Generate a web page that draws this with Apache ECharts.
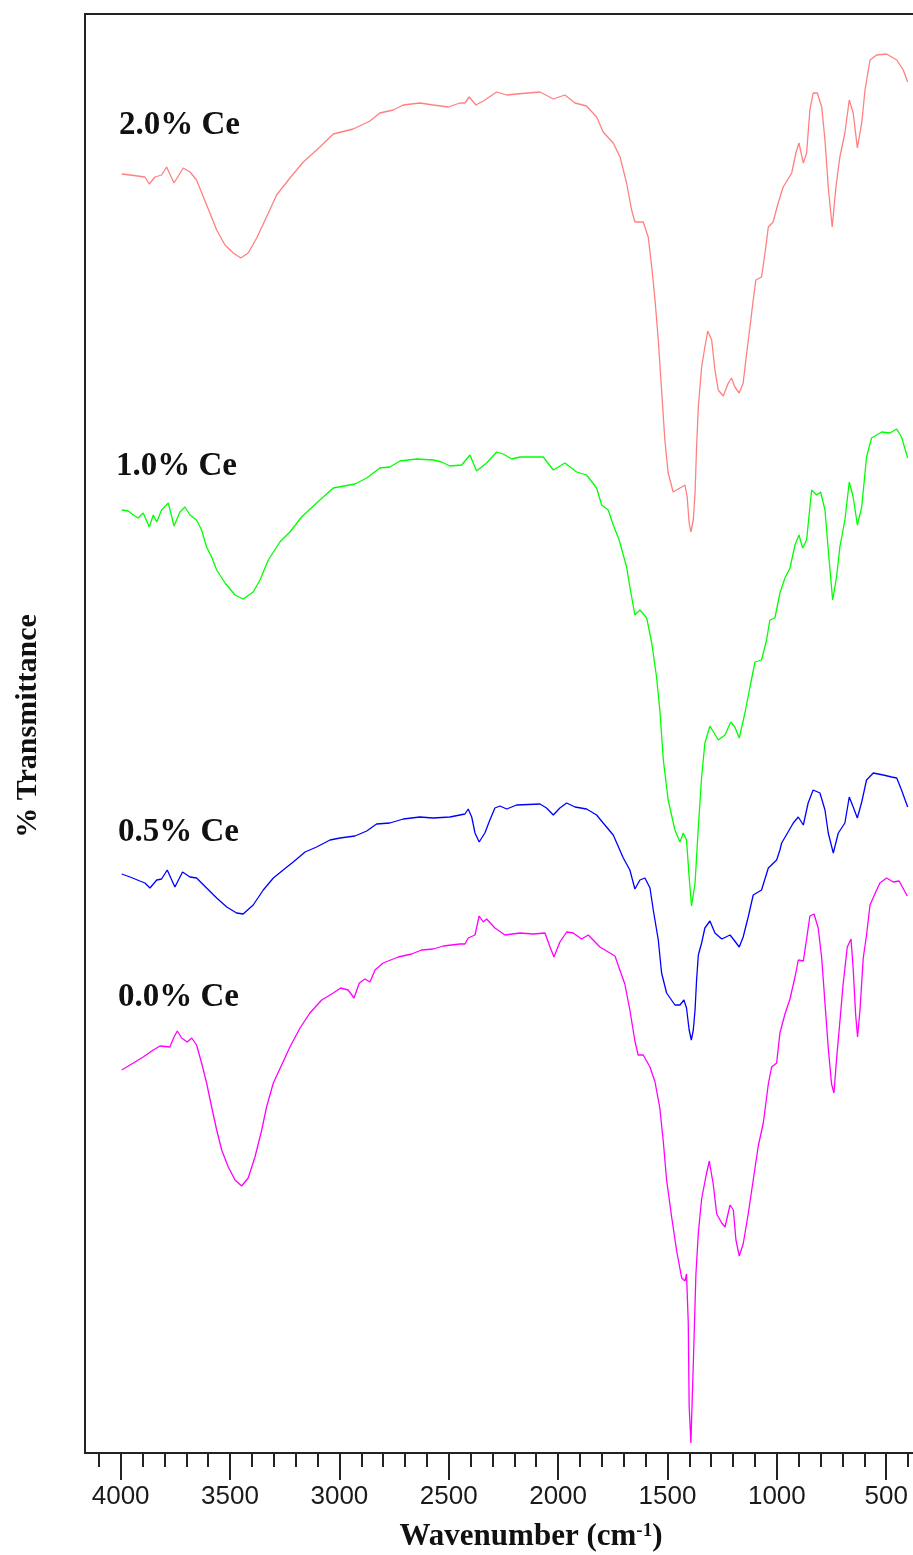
<!DOCTYPE html>
<html>
<head>
    <meta charset="utf-8">
    <title>FTIR spectra</title>
    <script src="https://cdn.jsdelivr.net/npm/echarts@6/dist/echarts.min.js"></script>
    <style>
        html, body { margin: 0; padding: 0; background: #fff; }
        #main { width: 913px; height: 1555px; }
    </style>
</head>
<body>
    <div id="main"></div>
    <script type="text/javascript">
        // spectra as [wavenumber (cm-1), stacked transmittance (a.u.)]
        var ce20 = [
            [3995, 127.9], [3957, 127.8], [3889, 127.6], [3869, 126.9], [3843, 127.6], [3813, 127.8],
            [3790, 128.6], [3756, 127.0], [3714, 128.5], [3683, 128.1], [3653, 127.3], [3622, 125.6],
            [3592, 124.0], [3561, 122.3], [3523, 120.8], [3485, 120.0], [3451, 119.5], [3417, 120.0],
            [3378, 121.5], [3333, 123.6], [3287, 125.8], [3226, 127.5], [3165, 129.1], [3089, 130.6],
            [3028, 131.9], [2937, 132.4], [2860, 133.2], [2815, 134.0], [2754, 134.3], [2708, 134.8],
            [2632, 135.0], [2571, 134.8], [2502, 134.6], [2449, 135.0], [2426, 135.0], [2406, 135.6],
            [2376, 134.8], [2342, 135.2], [2281, 136.1], [2235, 135.8], [2190, 135.9], [2083, 136.1],
            [2022, 135.4], [1969, 135.8], [1923, 135.0], [1870, 134.7], [1824, 133.6], [1794, 132.1],
            [1748, 131.0], [1717, 129.6], [1687, 127.0], [1664, 124.3], [1649, 123.1], [1611, 123.1],
            [1588, 121.6], [1572, 118.6], [1557, 115.3], [1542, 111.3], [1527, 106.3], [1512, 101.3],
            [1497, 98.0], [1474, 96.1], [1443, 96.5], [1420, 96.8], [1410, 95.6], [1401, 93.0],
            [1393, 92.1], [1382, 93.3], [1374, 96.0], [1367, 100.6], [1359, 104.6], [1344, 108.6],
            [1329, 110.6], [1316, 112.2], [1298, 111.3], [1283, 108.3], [1268, 106.3], [1245, 105.7],
            [1222, 107.0], [1207, 107.5], [1192, 106.6], [1172, 106.0], [1154, 107.0], [1138, 110.0],
            [1123, 112.6], [1108, 115.3], [1096, 117.3], [1070, 117.6], [1054, 120.0], [1039, 122.6],
            [1017, 123.1], [994, 125.0], [971, 126.6], [932, 128.0], [913, 130.0], [899, 131.0],
            [879, 129.0], [864, 130.0], [849, 134.3], [834, 136.0], [815, 136.0], [795, 134.6],
            [780, 131.3], [765, 126.6], [747, 122.6], [730, 126.6], [712, 129.6], [689, 132.0],
            [669, 135.3], [651, 134.0], [632, 130.5], [612, 133.0], [597, 136.3], [574, 139.3],
            [544, 139.8], [498, 139.9], [452, 139.3], [422, 138.3], [402, 137.1]
        ];
        var ce10 = [
            [3995, 94.3], [3965, 94.2], [3942, 93.8], [3920, 93.5], [3897, 94.0], [3869, 92.6],
            [3851, 93.8], [3835, 93.1], [3813, 94.3], [3782, 95.0], [3756, 92.7], [3729, 94.1],
            [3706, 94.6], [3683, 93.8], [3653, 93.3], [3630, 92.3], [3607, 90.6], [3584, 89.6],
            [3561, 88.3], [3523, 87.0], [3477, 85.8], [3440, 85.4], [3394, 86.1], [3363, 87.3],
            [3325, 89.3], [3272, 91.1], [3226, 92.1], [3173, 93.6], [3089, 95.3], [3028, 96.5],
            [2929, 96.9], [2875, 97.5], [2815, 98.5], [2769, 98.6], [2723, 99.2], [2647, 99.4],
            [2571, 99.3], [2533, 99.1], [2495, 98.7], [2441, 98.8], [2403, 99.8], [2373, 98.2],
            [2327, 99.0], [2281, 100.1], [2251, 99.9], [2212, 99.4], [2174, 99.6], [2068, 99.6],
            [2022, 98.3], [1969, 99.0], [1915, 98.1], [1870, 97.8], [1824, 96.5], [1801, 94.8],
            [1771, 94.3], [1748, 92.8], [1721, 91.3], [1687, 88.6], [1672, 86.6], [1649, 83.8],
            [1626, 84.3], [1595, 83.5], [1572, 81.0], [1550, 77.6], [1535, 74.3], [1519, 69.3],
            [1497, 65.3], [1466, 62.3], [1443, 61.1], [1428, 62.0], [1413, 61.3], [1401, 57.6],
            [1390, 54.7], [1374, 57.0], [1359, 62.6], [1344, 67.6], [1329, 71.0], [1306, 72.7],
            [1268, 71.3], [1237, 71.8], [1211, 73.1], [1192, 72.6], [1172, 71.5], [1146, 74.0],
            [1123, 76.6], [1100, 79.1], [1070, 79.3], [1047, 81.3], [1032, 83.3], [1009, 83.5],
            [986, 86.0], [963, 87.5], [940, 88.5], [917, 90.8], [899, 91.8], [882, 90.5],
            [864, 91.3], [841, 96.3], [818, 95.8], [800, 96.1], [780, 94.3], [765, 90.3],
            [745, 85.3], [727, 87.6], [712, 90.6], [689, 93.3], [669, 97.1], [651, 95.6],
            [632, 92.8], [612, 94.6], [590, 99.6], [567, 101.5], [521, 102.1], [483, 102.0],
            [452, 102.4], [430, 101.6], [402, 99.5]
        ];
        var ce05 = [
            [3995, 57.9], [3957, 57.6], [3912, 57.2], [3889, 57.0], [3866, 56.5], [3835, 57.3],
            [3813, 57.4], [3787, 58.3], [3752, 56.6], [3717, 58.1], [3683, 57.6], [3653, 57.5],
            [3607, 56.5], [3561, 55.5], [3515, 54.6], [3470, 54.0], [3440, 53.9], [3394, 54.8],
            [3348, 56.3], [3302, 57.5], [3257, 58.3], [3211, 59.1], [3157, 60.1], [3104, 60.6],
            [3043, 61.3], [2997, 61.5], [2929, 61.7], [2875, 62.2], [2830, 62.9], [2769, 63.0],
            [2708, 63.4], [2632, 63.6], [2571, 63.5], [2495, 63.6], [2426, 63.9], [2411, 64.4],
            [2395, 63.6], [2380, 62.0], [2361, 61.1], [2335, 62.0], [2312, 63.3], [2289, 64.5],
            [2266, 64.7], [2235, 64.4], [2190, 64.8], [2083, 64.9], [2053, 64.5], [2022, 63.8],
            [1992, 64.5], [1961, 65.0], [1923, 64.6], [1870, 64.4], [1824, 63.8], [1794, 63.0],
            [1748, 61.8], [1702, 59.5], [1672, 58.3], [1649, 56.4], [1626, 57.3], [1603, 57.5],
            [1580, 56.5], [1565, 54.3], [1542, 51.3], [1527, 48.0], [1504, 46.0], [1466, 44.8],
            [1443, 44.8], [1425, 45.3], [1413, 44.5], [1401, 42.3], [1391, 41.3], [1382, 42.3],
            [1374, 44.3], [1367, 47.3], [1359, 49.8], [1344, 51.0], [1329, 52.5], [1306, 53.2],
            [1283, 52.0], [1252, 51.4], [1214, 51.8], [1196, 51.3], [1172, 50.6], [1154, 51.6],
            [1131, 53.6], [1108, 55.8], [1070, 56.3], [1039, 58.5], [1001, 59.3], [986, 60.3],
            [978, 61.0], [925, 63.0], [902, 63.6], [879, 62.8], [857, 65.0], [834, 66.3],
            [803, 66.0], [780, 64.3], [765, 62.0], [742, 60.0], [719, 62.0], [689, 63.0],
            [669, 65.6], [651, 64.6], [632, 63.5], [612, 65.1], [590, 67.3], [559, 68.0],
            [514, 67.8], [475, 67.6], [452, 67.5], [430, 66.3], [402, 64.6]
        ];
        var ce00 = [
            [3995, 38.3], [3942, 39.0], [3897, 39.6], [3851, 40.3], [3820, 40.7], [3775, 40.6],
            [3756, 41.6], [3741, 42.2], [3721, 41.5], [3696, 41.1], [3675, 41.5], [3653, 40.8],
            [3630, 39.0], [3607, 37.0], [3584, 34.6], [3561, 32.3], [3538, 30.3], [3508, 28.6],
            [3477, 27.3], [3447, 26.7], [3417, 27.5], [3386, 29.6], [3355, 32.3], [3333, 34.6],
            [3302, 37.0], [3264, 38.8], [3226, 40.6], [3180, 42.5], [3135, 44.0], [3081, 45.3],
            [3028, 46.0], [2994, 46.5], [2960, 46.3], [2933, 45.5], [2909, 47.0], [2883, 47.4],
            [2860, 47.1], [2837, 48.3], [2800, 49.0], [2731, 49.6], [2670, 49.9], [2624, 50.3],
            [2571, 50.4], [2525, 50.7], [2449, 50.9], [2426, 50.9], [2411, 51.5], [2380, 51.8],
            [2361, 53.7], [2342, 53.1], [2327, 53.4], [2289, 52.5], [2243, 51.8], [2174, 52.0],
            [2114, 51.9], [2060, 52.0], [2037, 50.6], [2019, 49.6], [1992, 51.1], [1961, 52.1],
            [1931, 52.0], [1893, 51.4], [1862, 51.8], [1809, 50.6], [1763, 50.0], [1740, 49.7],
            [1721, 48.5], [1695, 46.9], [1672, 44.3], [1649, 41.2], [1634, 39.8], [1611, 39.8],
            [1580, 38.6], [1557, 37.1], [1535, 34.5], [1519, 31.1], [1504, 27.3], [1481, 23.6],
            [1458, 20.2], [1435, 17.5], [1420, 17.2], [1413, 17.9], [1405, 13.0], [1401, 4.7],
            [1393, 1.0], [1382, 8.9], [1370, 17.9], [1359, 22.0], [1344, 25.4], [1324, 27.7],
            [1309, 29.2], [1291, 26.9], [1275, 23.9], [1252, 23.0], [1237, 22.6], [1214, 24.8],
            [1199, 24.3], [1187, 21.3], [1172, 19.7], [1154, 20.9], [1131, 23.9], [1108, 27.3],
            [1085, 30.7], [1062, 33.0], [1039, 36.9], [1024, 38.6], [1001, 39.0], [986, 42.0],
            [963, 43.9], [940, 45.4], [917, 47.6], [902, 49.3], [879, 49.2], [864, 51.4],
            [849, 53.7], [830, 53.9], [811, 52.5], [795, 49.5], [780, 45.0], [765, 40.5],
            [750, 36.9], [739, 36.0], [727, 39.4], [712, 43.1], [697, 46.9], [678, 50.6],
            [661, 51.4], [651, 48.4], [640, 43.9], [631, 41.6], [620, 44.3], [605, 49.5],
            [590, 51.8], [574, 54.8], [552, 55.9], [529, 57.0], [498, 57.5], [468, 57.1],
            [441, 57.2], [404, 55.7]
        ];

        var seriesNames = ['2.0% Ce', '1.0% Ce', '0.5% Ce', '0.0% Ce'];
        var seriesColors = ['#ff8080', '#00ff00', '#0000ff', '#ff00ff'];
        var majorTicks = [4000, 3500, 3000, 2500, 2000, 1500, 1000, 500];
        var minorTicks = [];
        for (var t = 4100; t >= 400; t -= 100) {
            if (t % 500 !== 0) minorTicks.push(t);
        }

        var myChart = echarts.init(document.getElementById('main'), null, { renderer: 'canvas' });

        var serif = '"Liberation Serif", "Times New Roman", serif';
        var sans = '"Liberation Sans", Arial, sans-serif';

        // label anchors (pixel positions of the curve captions)
        var labelPos = [[119, 125], [116, 466], [118, 832], [118, 997]];

        var series = [ce20, ce10, ce05, ce00].map(function (d, i) {
            return {
                name: seriesNames[i],
                type: 'line',
                data: d,
                showSymbol: false,
                symbol: 'none',
                lineStyle: { color: seriesColors[i], width: 1.3 },
                itemStyle: { color: seriesColors[i] },
                animation: false
            };
        });

        var graphics = seriesNames.map(function (n, i) {
            return {
                type: 'text',
                x: labelPos[i][0],
                y: labelPos[i][1],
                style: {
                    text: n,
                    font: 'bold 33px ' + serif,
                    fill: '#111',
                    align: 'left',
                    verticalAlign: 'middle'
                }
            };
        });
        graphics.push({
            type: 'text',
            x: 531,
            y: 1537,
            style: {
                text: '{a|Wavenumber (cm}{b|-1}{a|)}',
                fill: '#111',
                align: 'center',
                verticalAlign: 'middle',
                rich: {
                    a: { font: 'bold 31px ' + serif, fill: '#111' },
                    b: { font: 'bold 19px ' + serif, fill: '#111', verticalAlign: 'top' }
                }
            }
        });
        graphics.push({
            type: 'text',
            x: 28,
            y: 726,
            rotation: Math.PI / 2,
            style: {
                text: '% Transmittance',
                font: 'bold 30px ' + serif,
                fill: '#111',
                align: 'center',
                verticalAlign: 'middle'
            }
        });

        var option = {
            animation: false,
            backgroundColor: '#fff',
            grid: {
                left: 85,
                right: -1,
                top: 14,
                bottom: 102,
                show: true,
                borderColor: '#222',
                borderWidth: 2,
                containLabel: false,
                outerBoundsMode: 'none'
            },
            xAxis: [{
                type: 'value',
                position: 'bottom',
                inverse: true,
                min: 373,
                max: 4163,
                axisLine: { show: false, onZero: false },
                splitLine: { show: false },
                axisTick: {
                    show: true,
                    customValues: majorTicks,
                    length: 27,
                    lineStyle: { color: '#222', width: 2 }
                },
                axisLabel: {
                    show: true,
                    customValues: majorTicks,
                    margin: 31,
                    fontSize: 26,
                    fontFamily: sans,
                    color: '#1a1a1a',
                    formatter: function (v) { return String(v); }
                }
            }, {
                type: 'value',
                position: 'bottom',
                offset: 0,
                inverse: true,
                min: 373,
                max: 4163,
                axisLine: { show: false, onZero: false },
                splitLine: { show: false },
                axisTick: {
                    show: true,
                    customValues: minorTicks,
                    length: 14,
                    lineStyle: { color: '#222', width: 2 }
                },
                axisLabel: { show: false }
            }],
            yAxis: {
                type: 'value',
                min: 0,
                max: 143.9,
                axisLine: { show: false },
                axisTick: { show: false },
                axisLabel: { show: false },
                splitLine: { show: false }
            },
            series: series,
            graphic: graphics
        };

        myChart.setOption(option);
    </script>
</body>
</html>
